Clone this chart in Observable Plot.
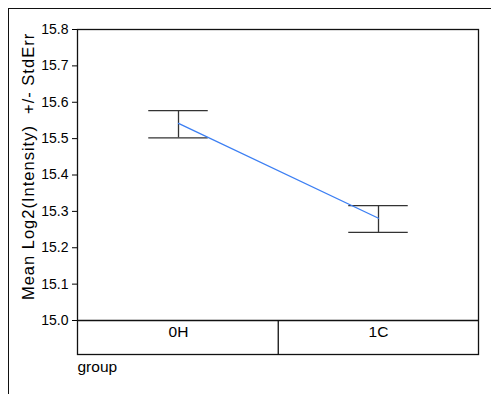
<!DOCTYPE html>
<html>
<head>
<meta charset="utf-8">
<script src="https://cdn.jsdelivr.net/npm/d3@7"></script>
<script src="https://cdn.jsdelivr.net/npm/@observablehq/plot@0.6"></script>
<style>
  html, body { margin: 0; padding: 0; background: #fff; }
  #wrap { position: relative; width: 491px; height: 394px; overflow: hidden; }
  #border { position: absolute; left: 8px; top: 8px; width: 600px; height: 600px;
            border-top: 1.3px solid #111; border-left: 1.3px solid #111; pointer-events: none; }
</style>
</head>
<body>
<div id="wrap"><div id="border"></div></div>
<script>
// Data
const groups = ["0H", "1C"];
const means = [15.542, 15.281];
const lows = [15.502, 15.242];
const highs = [15.577, 15.316];
const yTicks = [15.0, 15.1, 15.2, 15.3, 15.4, 15.5, 15.6, 15.7, 15.8];
const yLabel = "Mean Log2(Intensity)  +/- StdErr";
const xLabel = "group";

const stats = groups.map((g, i) => ({group: g, mean: means[i], lo: lows[i], hi: highs[i]}));

const W = 491, H = 394;
const mL = 77, mR = 13, mT = 29, mB = 40;
const yPix0 = 320, yPix1 = 29;            // pixel range of the y domain
const yMin = yTicks[0], yMax = yTicks[yTicks.length - 1];
// y value at the bottom of the frame (below the category strip)
const yFloor = yMin - (yMax - yMin) * ((H - mB) - yPix0) / (yPix0 - yPix1);
const bandW = (W - mL - mR) / groups.length;
const capHalf = 30;
const inkColor = "#111";
const barColor = "#333";
const lineColor = "#3c7ff3";
const font = "'Liberation Sans', Arial, Helvetica, sans-serif";

const chart = Plot.plot({
  width: W,
  height: H,
  marginLeft: mL,
  marginRight: mR,
  marginTop: mT,
  marginBottom: mB,
  style: {fontFamily: font, fontSize: "14px", background: "transparent", color: "#000"},
  x: {type: "band", domain: groups, padding: 0, axis: null},
  y: {domain: [yMin, yMax], range: [yPix0, yPix1], ticks: yTicks, tickFormat: d3.format(".1f"),
      tickSize: 5, tickPadding: 4, label: null},
  marks: [
    Plot.frame({stroke: inkColor, strokeWidth: 1.3}),
    Plot.ruleY([yMin], {stroke: inkColor, strokeWidth: 1.3}),
    Plot.ruleX(groups.slice(1), {x: d => d, y1: yMin, y2: yFloor, dx: -bandW / 2, stroke: inkColor, strokeWidth: 1.3}),
    Plot.ruleX(stats, {x: "group", y1: "lo", y2: "hi", stroke: barColor, strokeWidth: 1.3}),
    Plot.tickY(stats, {x: "group", y: "lo", insetLeft: bandW / 2 - capHalf, insetRight: bandW / 2 - capHalf, stroke: barColor, strokeWidth: 1.3}),
    Plot.tickY(stats, {x: "group", y: "hi", insetLeft: bandW / 2 - capHalf, insetRight: bandW / 2 - capHalf, stroke: barColor, strokeWidth: 1.3}),
    Plot.line(stats, {x: "group", y: "mean", stroke: lineColor, strokeWidth: 1.3}),
    Plot.text(groups, {x: d => d, frameAnchor: "bottom", dy: -17.5, fontSize: 15.5, fill: "#000"}),
    Plot.text([xLabel], {frameAnchor: "bottom-left", dy: 17, textAnchor: "start", fontSize: 15.5, fill: "#000"}),
    Plot.text([yLabel], {frameAnchor: "left", dx: -48.5, dy: -25.5, rotate: -90, textAnchor: "middle", fontSize: 16.5, fill: "#000"})
  ]
});
chart.querySelectorAll("text").forEach(t => {
  if (t.textContent === yLabel) t.setAttribute("letter-spacing", "1");
});
document.getElementById("wrap").insertBefore(chart, document.getElementById("border"));
</script>
</body>
</html>
